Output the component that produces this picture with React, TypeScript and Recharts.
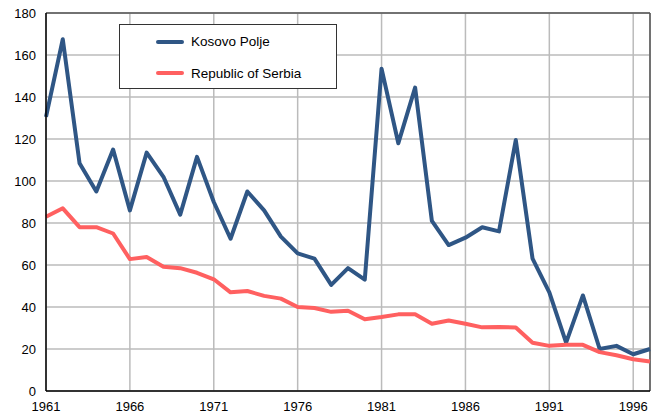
import React from "react";
import { LineChart, Line, XAxis, YAxis, CartesianGrid, ReferenceLine } from "recharts";

const years = [
  1961, 1962, 1963, 1964, 1965, 1966, 1967, 1968, 1969, 1970,
  1971, 1972, 1973, 1974, 1975, 1976, 1977, 1978, 1979, 1980,
  1981, 1982, 1983, 1984, 1985, 1986, 1987, 1988, 1989, 1990,
  1991, 1992, 1993, 1994, 1995, 1996, 1997,
];
const kosovoPolje = [
  130.5, 167.5, 108.5, 95, 115, 86, 113.5, 102, 84, 111.5,
  90, 72.5, 95, 86, 73.5, 65.5, 63, 50.5, 58.5, 53,
  153.5, 118, 144.5, 81, 69.5, 73, 78, 76, 119.5, 63,
  47, 23, 45.5, 20, 21.5, 17.5, 20,
];
const serbia = [
  83, 87, 78, 78, 75, 62.8, 63.8, 59.2, 58.5, 56.3,
  53.2, 47, 47.6, 45.3, 44, 40, 39.5, 37.7, 38.2, 34.2,
  35.2, 36.5, 36.5, 32, 33.6, 32, 30.3, 30.5, 30.2, 23,
  21.5, 22, 22, 18.5, 17, 15.1, 14,
];
const xTicks = [1961, 1966, 1971, 1976, 1981, 1986, 1991, 1996];
const yTicks = [0, 20, 40, 60, 80, 100, 120, 140, 160, 180];

const seriesNames = ["Kosovo Polje", "Republic of Serbia"];
const seriesColors = ["#2F5685", "#FF6060"];

const data = years.map((y, i) => ({ year: y, kp: kosovoPolje[i], rs: serbia[i] }));

const font = "'Liberation Sans', Arial, sans-serif";

const LegendBox = () => (
  <div
    style={{
      position: "absolute",
      left: 119,
      top: 24,
      border: "1px solid #333",
      background: "#fff",
      width: 218,
      height: 65,
      boxSizing: "border-box",
      fontFamily: font,
      fontSize: 13.5,
      color: "#000",
    }}
  >
    {seriesNames.map((n, i) => (
      <div
        key={n}
        style={{ position: "absolute", left: 36, top: 8 + i * 31.5, display: "flex", alignItems: "center", height: 17 }}
      >
        <div style={{ width: 28, height: 4, background: seriesColors[i], borderRadius: 2, marginRight: 7 }} />
        <span>{n}</span>
      </div>
    ))}
  </div>
);

export default function App() {
  return (
    <div style={{ position: "absolute", left: 0, top: 0, width: 660, height: 420, background: "#fff" }}>
      <LineChart width={660} height={420} data={data} margin={{ top: 13, right: 10, bottom: 9, left: 6 }}>
        <CartesianGrid stroke="#BBBBBB" strokeWidth={1.5} />
        <XAxis
          dataKey="year"
          type="number"
          domain={[1961, 1997]}
          ticks={xTicks}
          interval={0}
          height={20}
          tickLine={false}
          axisLine={{ stroke: "#000", strokeWidth: 1.5 }}
          tick={{ fill: "#000", fontSize: 13, fontFamily: font }}
          tickMargin={5}
        />
        <YAxis
          type="number"
          domain={[0, 180]}
          ticks={yTicks}
          interval={0}
          width={40}
          tickLine={false}
          axisLine={{ stroke: "#000", strokeWidth: 1.5 }}
          tick={{ fill: "#000", fontSize: 13, fontFamily: font }}
          tickMargin={4}
        />
        <ReferenceLine y={180} stroke="#555" strokeWidth={1.5} />
        <ReferenceLine x={1997} stroke="#555" strokeWidth={1.5} />
        <Line
          dataKey="kp"
          name={seriesNames[0]}
          stroke={seriesColors[0]}
          strokeWidth={4}
          dot={false}
          isAnimationActive={false}
          strokeLinejoin="round"
        />
        <Line
          dataKey="rs"
          name={seriesNames[1]}
          stroke={seriesColors[1]}
          strokeWidth={4}
          dot={false}
          isAnimationActive={false}
          strokeLinejoin="round"
        />
      </LineChart>
      <LegendBox />
    </div>
  );
}
